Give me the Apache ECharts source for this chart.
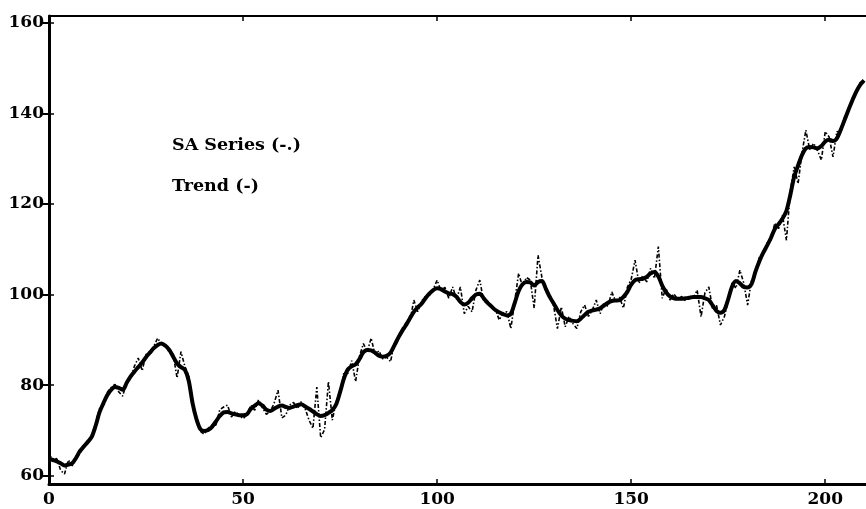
<!DOCTYPE html>
<html>
<head>
<meta charset="utf-8">
<script src="https://cdn.jsdelivr.net/npm/echarts@6/dist/echarts.min.js"></script>
<style>
  html, body { margin: 0; padding: 0; background: #fff; }
  #chart { width: 866px; height: 509px; }
</style>
</head>
<body>
<div id="chart"></div>
<script>
// Seasonally adjusted series and its trend, one value per period 0..210
const trend = [
  63.8, 63.5, 63.2, 62.8, 62.3, 62.5, 62.8, 64.0, 65.5, 66.5,
  67.5, 68.6, 71.0, 74.0, 76.0, 77.8, 79.0, 79.6, 79.4, 79.0,
  80.5, 81.9, 83.0, 84.0, 85.0, 86.2, 87.2, 88.2, 88.9, 89.2,
  88.7, 87.8, 86.3, 84.8, 84.0, 83.4, 81.0, 76.0, 72.5, 70.3,
  69.9, 70.1, 70.8, 72.0, 73.2, 74.0, 74.1, 73.8, 73.6, 73.4,
  73.4, 73.6, 74.8, 75.5, 76.0, 75.5, 74.6, 74.3, 74.8, 75.3,
  75.5, 75.2, 75.0, 75.3, 75.6, 75.8, 75.3, 74.8, 74.2, 73.6,
  73.2, 73.4, 73.9, 74.5, 75.8, 78.5, 81.5, 83.5, 84.2, 84.6,
  85.8, 87.3, 87.8, 87.7, 87.2, 86.5, 86.3, 86.5, 87.2, 88.8,
  90.5, 92.0, 93.3, 94.8, 96.2, 97.2, 98.0, 99.2, 100.2, 101.0,
  101.4, 101.2, 100.7, 100.3, 100.1, 99.5, 98.4, 97.8, 98.2, 99.2,
  100.0, 100.2, 99.2, 98.2, 97.4, 96.6, 96.1, 95.7, 95.4, 95.8,
  98.2, 100.8, 102.3, 102.8, 102.7, 102.0, 102.8, 103.0, 101.3, 99.5,
  98.1, 96.6, 95.4, 94.7, 94.4, 94.2, 94.1, 94.7, 95.5, 96.2,
  96.5, 96.7, 97.0, 97.6, 98.2, 98.6, 98.7, 98.8, 99.5, 100.6,
  102.2, 103.2, 103.4, 103.5, 103.9, 104.7, 105.0, 104.0, 102.0, 100.5,
  99.6, 99.2, 99.1, 99.1, 99.2, 99.3, 99.5, 99.5, 99.5, 99.2,
  98.8, 97.6, 96.4, 96.0, 96.6, 99.0, 101.8, 103.0, 102.5, 101.7,
  101.6, 102.3, 105.0, 107.3, 109.2, 110.8, 112.5, 114.5, 115.6, 116.8,
  118.5, 122.0, 126.0, 128.5, 130.8, 132.3, 132.6, 132.5, 132.3, 132.8,
  133.8, 134.2, 133.9, 134.5, 136.4, 138.6, 140.8, 142.9, 144.8, 146.3,
  147.3
];

const saSeries = [
  64.8, 63.5, 63.8, 61.2, 60.4, 63.5, 62.2, 63.8, 65.0, 66.5,
  67.2, 68.8, 71.5, 74.8, 75.6, 78.4, 79.5, 80.2, 78.5, 77.6,
  80.8, 81.4, 84.2, 86.0, 83.2, 86.8, 87.4, 88.6, 90.4, 89.0,
  88.9, 87.2, 86.8, 81.6, 87.4, 84.2, 82.0, 75.5, 72.8, 69.8,
  69.2, 70.5, 71.2, 71.2, 74.6, 75.2, 75.6, 73.0, 74.2, 73.4,
  72.6, 73.5, 75.6, 74.5, 76.8, 75.0, 73.6, 74.2, 76.0, 78.9,
  72.8, 73.4, 75.6, 76.2, 74.8, 76.4, 74.8, 72.3, 70.5, 79.6,
  68.4, 70.2, 80.8, 72.3, 76.4, 78.0, 82.9, 82.6, 85.4, 80.8,
  86.4, 89.2, 87.4, 90.4, 86.8, 87.6, 85.8, 86.2, 85.2, 89.4,
  90.2, 92.5, 93.8, 94.2, 98.8, 96.2, 98.6, 99.6, 99.8, 101.2,
  103.2, 100.8, 101.6, 99.2, 101.7, 99.0, 101.7, 95.8, 97.4, 96.2,
  101.0, 103.2, 98.4, 98.6, 97.0, 96.8, 94.4, 96.0, 96.2, 92.5,
  98.6, 104.7, 101.8, 103.8, 103.2, 97.0, 108.7, 103.8, 100.6, 100.2,
  97.6, 92.5, 97.3, 92.9, 95.2, 93.6, 92.5, 96.2, 97.7, 95.2,
  96.6, 98.8, 95.8, 98.2, 97.4, 100.6, 98.5, 99.4, 97.0, 101.6,
  103.4, 107.6, 102.5, 104.2, 102.8, 105.8, 103.6, 110.6, 99.2, 101.4,
  98.8, 100.2, 98.9, 99.6, 98.6, 99.8, 99.2, 101.0, 95.1, 100.4,
  101.7, 96.8, 97.6, 93.3, 95.1, 98.6, 102.6, 101.4, 105.4, 102.6,
  97.7, 103.2, 104.4, 108.2, 108.8, 111.4, 112.0, 115.8, 114.6, 117.5,
  112.0, 122.8, 128.2, 124.5, 131.2, 136.3, 132.0, 133.4, 131.8, 129.7,
  136.0, 134.8, 130.4, 136.0, 135.8, 139.2, 140.4, 143.4, 144.4, 146.8,
  147.2
];

const xTicks = [0, 50, 100, 150, 200];
const yTicks = [60, 80, 100, 120, 140, 160];
const legendLines = ['SA Series (-.)', 'Trend (-)'];

const FONT = '"DejaVu Serif", "Liberation Serif", serif';
const toPairs = arr => arr.map((v, i) => [i, v]);

const chart = echarts.init(document.getElementById('chart'), null, { renderer: 'canvas' });

const labelStyle = { color: '#000', fontFamily: FONT, fontWeight: 'bold', fontSize: 17 };

chart.setOption({
  backgroundColor: '#fff',
  animation: false,
  grid: { left: 49, right: 0, top: 16, bottom: 25, containLabel: false },
  xAxis: [
    {
      type: 'value', position: 'bottom', min: 0, max: 210.5,
      axisLine: { lineStyle: { color: '#000', width: 3 } },
      axisTick: { inside: true, length: 5, lineStyle: { color: '#000', width: 1.5 }, customValues: xTicks },
      axisLabel: Object.assign({ margin: 7, customValues: xTicks }, labelStyle),
      splitLine: { show: false }
    },
    {
      type: 'value', position: 'top', min: 0, max: 210.5,
      axisLine: { lineStyle: { color: '#000', width: 2 } },
      axisTick: { inside: true, length: 5, lineStyle: { color: '#000', width: 1.5 }, customValues: xTicks },
      axisLabel: { show: false },
      splitLine: { show: false }
    }
  ],
  yAxis: [
    {
      type: 'value', position: 'left', min: 58.2, max: 161.5,
      axisLine: { show: true, lineStyle: { color: '#000', width: 3 } },
      axisTick: { show: true, inside: true, length: 5, lineStyle: { color: '#000', width: 1.5 }, customValues: yTicks },
      axisLabel: Object.assign({ margin: 5, customValues: yTicks }, labelStyle),
      splitLine: { show: false }
    },
    {
      type: 'value', position: 'right', min: 58.2, max: 161.5,
      axisLine: { show: false },
      axisTick: { show: true, inside: true, length: 6, lineStyle: { color: '#000', width: 2 }, customValues: yTicks },
      axisLabel: { show: false },
      splitLine: { show: false }
    }
  ],
  series: [
    {
      name: 'SA Series', type: 'line', data: toPairs(saSeries),
      xAxisIndex: 0, yAxisIndex: 0,
      showSymbol: false, clip: true,
      lineStyle: { color: '#000', width: 1.6, type: [4, 2, 1.5, 2] }
    },
    {
      name: 'Trend', type: 'line', data: toPairs(trend),
      xAxisIndex: 0, yAxisIndex: 0,
      showSymbol: false, clip: true, smooth: 0.3,
      lineStyle: { color: '#000', width: 4 }
    }
  ],
  graphic: legendLines.map((t, i) => ({
    type: 'text', left: 172, top: 136 + i * 41,
    style: { text: t, fill: '#000', font: 'bold 17.5px ' + FONT }
  }))
});
</script>
</body>
</html>
